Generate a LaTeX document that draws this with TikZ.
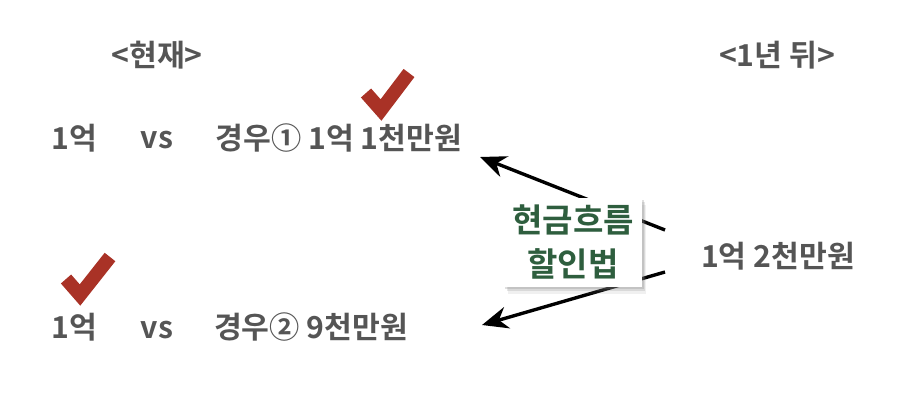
\documentclass[tikz,border=0pt]{standalone}
\usepackage{fontspec}
\setmainfont{Noto Sans CJK KR}[BoldFont={Noto Sans CJK KR Bold}]
\usetikzlibrary{arrows.meta,positioning,calc,shadows}
\definecolor{tgray}{HTML}{555555}
\definecolor{tgreen}{HTML}{2E5E3E}
\definecolor{tcheck}{HTML}{A93226}

\begin{document}
\begin{tikzpicture}[x=0.025cm, y=-0.025cm, font=\fontsize{21.5}{26}\selectfont\bfseries]
\useasboundingbox (0,0) rectangle (899,409);
\tikzset{lbl/.style={text=tgray, inner sep=0pt},
  chk/.style={draw=tcheck, line width=3.4mm, line cap=butt, line join=miter},
  arr/.style={draw=black, line width=2.4pt, -{Stealth[length=6.5mm,width=5.5mm]}}}
% headers
\node[lbl] (now) at (157,55) {<현재>};
\node[lbl] (later) at (777,55) {<1년 뒤>};
% case 1
\node[lbl] (pa) at (74,138) {1억};
\node[lbl] (vsa) at (157,140) {vs};
\node[lbl] (casea) at (339,138) {경우① 1억 1천만원};
% case 2
\node[lbl] (pb) at (74,327) {1억};
\node[lbl] (vsb) at (157,330) {vs};
\node[lbl] (caseb) at (311,327) {경우② 9천만원};
% future value
\node[lbl] (fv) at (778,256) {1억 2천만원};
% arrows
\coordinate (ta) at (480,157);
\coordinate (tb) at (482,325);
\coordinate (sa) at (665,230);
\coordinate (sb) at (665,272);
\draw[arr] (sa) -- (ta);
\draw[arr] (sb) -- (tb);
% method box (soft shadow)
\node[fill=white,
  drop shadow={opacity=0.12, shadow xshift=3pt, shadow yshift=-5pt},
  drop shadow={opacity=0.2, shadow xshift=2pt, shadow yshift=-3.5pt},
  drop shadow={opacity=0.25, shadow xshift=1pt, shadow yshift=-2pt},
  text=tgreen, align=center, minimum width=130*0.025cm, minimum height=89*0.025cm,
  inner xsep=6pt, font=\fontsize{23.5}{31}\selectfont\bfseries] (dcf) at (573,242) {현금흐름\\할인법};
% checks
\draw[chk] (366,93) -- (381,110) -- (409,73);
\draw[chk] (66,279) -- (80,295) -- (110,257);
\end{tikzpicture}
\end{document}
